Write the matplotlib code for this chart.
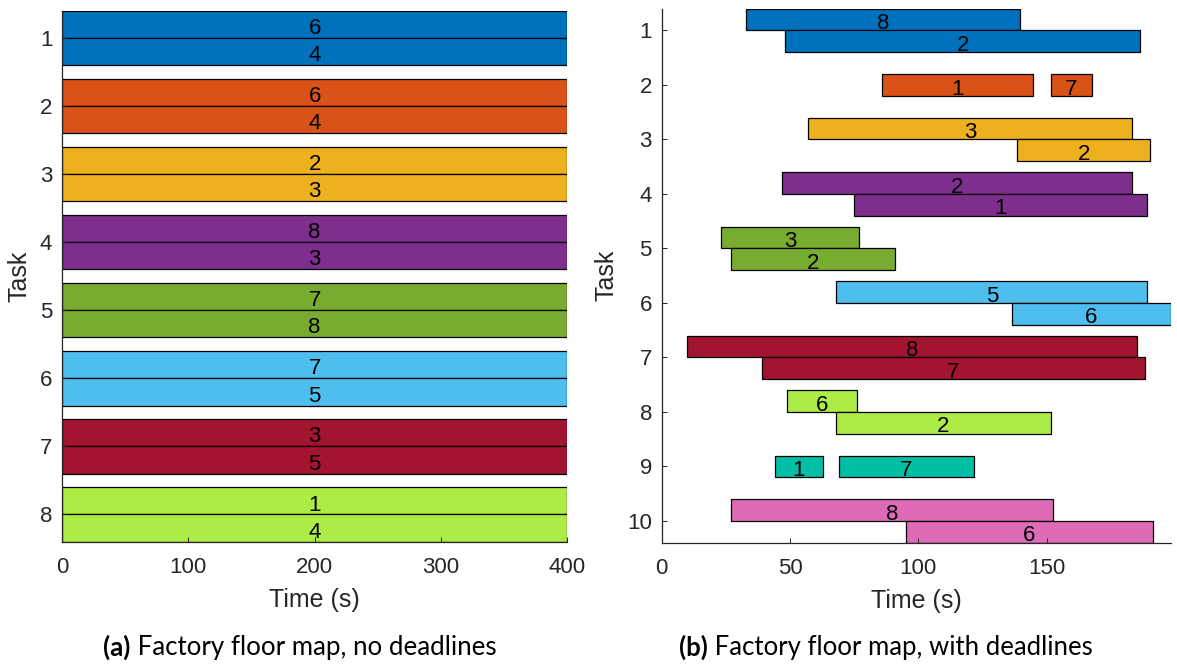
import matplotlib
matplotlib.use("Agg")
import matplotlib.pyplot as plt

# ---- data: (a) no deadlines ----
tasks_a = [1, 2, 3, 4, 5, 6, 7, 8]
a_top_labels = [6, 6, 2, 8, 7, 7, 3, 1]
a_bot_labels = [4, 4, 3, 3, 8, 5, 5, 4]
a_start = 0
a_end = 400

# ---- data: (b) with deadlines ----
b_task = [1, 1, 2, 2, 3, 3, 4, 4, 5, 5, 6, 6, 7, 7, 8, 8, 9, 9, 10, 10]
b_row = ["top", "bot", "mid", "mid", "top", "bot", "top", "bot", "top", "bot",
         "top", "bot", "top", "bot", "top", "bot", "mid", "mid", "top", "bot"]
b_start = [33, 48, 86, 151.5, 57, 138.5, 47, 75, 23, 27,
           68, 136.5, 10, 39, 49, 68, 44, 69, 27, 95]
b_end = [139.5, 186.5, 144.5, 167.5, 183.3, 190.4, 183.3, 189.2, 77, 91,
         189.2, 198.4, 185.2, 188.4, 76, 151.5, 63, 121.7, 152.5, 191.3]
b_label = [8, 2, 1, 7, 3, 2, 2, 1, 3, 2, 5, 6, 8, 7, 6, 2, 1, 7, 8, 6]

task_colors = ["#0072BD", "#D95319", "#EDB120", "#7E2F8E", "#77AC30",
               "#4DBEEE", "#A2142F", "#ADEB47", "#00BFA5", "#DD6BB8"]

plt.rcParams["font.family"] = ["Liberation Sans", "DejaVu Sans"]
AX_COL = "#262626"
W, H = 1177, 666

fig = plt.figure(figsize=(W / 100, H / 100), dpi=100)
ax1 = fig.add_axes([62 / W, 1 - 541.7 / H, 505.3 / W, 531.1 / H])
ax2 = fig.add_axes([661.6 / W, 1 - 542.7 / H, 509.4 / W, 534.1 / H])

BAR_H = 0.4
offs = {"top": -0.2, "bot": 0.2, "mid": 0.0}


def label_bar(ax, x, y, txt):
    ax.annotate(str(txt), (x, y), xytext=(0, -3), textcoords="offset points",
                ha="center", va="center", fontsize=16, color="black")


# (a)
for i, t in enumerate(tasks_a):
    c = task_colors[i]
    for y, lab in ((t - 0.2, a_top_labels[i]), (t + 0.2, a_bot_labels[i])):
        ax1.barh(y, a_end - a_start, left=a_start, height=BAR_H, color=c,
                 edgecolor="black", linewidth=0.9)
        label_bar(ax1, (a_start + a_end) / 2, y, lab)
ax1.set_xlim(0, 400)
ax1.set_ylim(8.4, 0.6)
ax1.set_yticks(tasks_a)
ax1.set_xticks([0, 100, 200, 300, 400])

# (b)
for t, r, s, e, lab in zip(b_task, b_row, b_start, b_end, b_label):
    y = t + offs[r]
    ax2.barh(y, e - s, left=s, height=BAR_H, color=task_colors[t - 1],
             edgecolor="black", linewidth=0.9)
    label_bar(ax2, (s + e) / 2, y, lab)
ax2.set_xlim(0, max(b_end))
ax2.set_ylim(10.4, 0.6)
ax2.set_yticks(range(1, 11))
ax2.set_xticks([0, 50, 100, 150])

for ax in (ax1, ax2):
    for side in ("top", "right"):
        ax.spines[side].set_visible(False)
    for side in ("left", "bottom"):
        ax.spines[side].set_color(AX_COL)
        ax.spines[side].set_linewidth(0.9)
    ax.tick_params(direction="in", length=3.6, width=0.7, colors=AX_COL,
                   labelsize=16, labelcolor=AX_COL)
    ax.tick_params(axis="y", pad=7)
    ax.tick_params(axis="x", pad=11)
    ax.set_xlabel("Time (s)", fontsize=18, color=AX_COL, labelpad=7)
    ax.set_ylabel("Task", fontsize=18, color=AX_COL, labelpad=6)

# captions
cap_font = dict(color="black", va="center", family=["Lato", "DejaVu Sans"])


def caption(xc, yc, tag, rest, target_w):
    t1 = fig.text(0, yc, tag, weight="bold", fontsize=16, **cap_font)
    t2 = fig.text(0, yc, " " + rest, fontsize=16, **cap_font)
    fig.canvas.draw()
    r = fig.canvas.get_renderer()
    w = t1.get_window_extent(r).width + t2.get_window_extent(r).width
    fs = 16 * target_w / w
    t1.set_fontsize(fs)
    t2.set_fontsize(fs)
    fig.canvas.draw()
    w1 = t1.get_window_extent(r).width
    w2 = t2.get_window_extent(r).width
    x0 = xc - (w1 + w2) / 2
    t1.set_x(x0 / W)
    t2.set_x((x0 + w1) / W)


caption(300, 1 - 647 / H, "(a)", "Factory floor map, no deadlines", 394)
caption(885.5, 1 - 647 / H, "(b)", "Factory floor map, with deadlines", 415)

fig.savefig("out.png", dpi=100)
